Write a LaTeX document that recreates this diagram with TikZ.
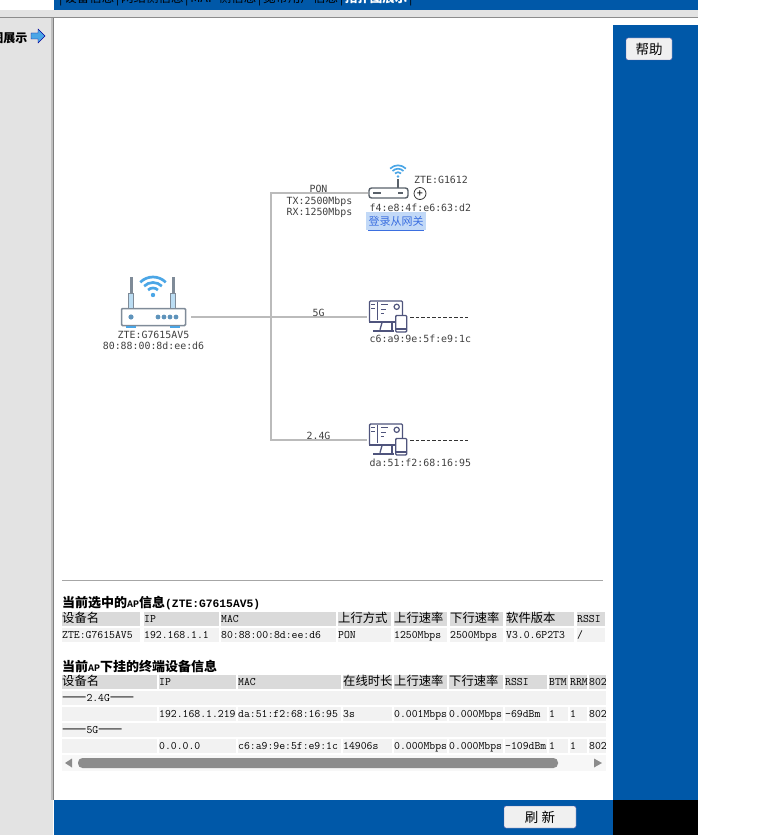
\documentclass[tikz,border=0pt]{standalone}
\usepackage{fontspec}
\usetikzlibrary{positioning,calc}
\newfontfamily\cjk{Noto Sans CJK SC}
\newfontfamily\dejamono{DejaVu Sans Mono}
\newfontfamily\slabmono{Liberation Mono}
\definecolor{page-blue}{HTML}{0058A8}
\definecolor{page-gray}{HTML}{E3E3E3}
\definecolor{head-gray}{HTML}{DADADA}
\definecolor{row-gray}{HTML}{F2F2F2}
\definecolor{wire-gray}{HTML}{BBBBBB}
\definecolor{icon-gray}{HTML}{7F8B98}
\definecolor{dot-blue}{HTML}{5E93BB}
\definecolor{wifi-blue}{HTML}{4BA6E6}
\definecolor{pale-blue}{HTML}{BBDDF3}
\definecolor{pc-slate}{HTML}{4F547C}
\definecolor{login-fill}{HTML}{C2D9F7}
\definecolor{login-text}{HTML}{3B6FE0}
\newcommand{\wifimark}[3]{% x, y of the dot, scale
  \fill[wifi-blue] (#1,#2) circle ({2.2*#3 pt});
  \draw[wifi-blue,line width=2.7*#3 pt] (#1,#2) ++(45:7*#3 pt) arc[start angle=45,end angle=135,radius=7*#3 pt];
  \draw[wifi-blue,line width=2.7*#3 pt] (#1,#2) ++(45:12.5*#3 pt) arc[start angle=45,end angle=135,radius=12.5*#3 pt];
  \draw[wifi-blue,line width=2.7*#3 pt] (#1,#2) ++(45:18*#3 pt) arc[start angle=45,end angle=135,radius=18*#3 pt];
}
\newcommand{\pcmark}[1]{% name of the screen node
  \draw[pc-slate,line width=1.3pt] ($(#1.south)+(-4,0)$) -- ($(#1.south)+(-6,7)$);
  \draw[pc-slate,line width=1.3pt] ($(#1.south)+(6,0)$) -- ($(#1.south)+(6,7)$);
  \draw[pc-slate,line width=1.8pt] ($(#1.south)+(-13,8.5)$) -- ($(#1.south)+(8,8.5)$);
  \draw[pc-slate,line width=2.4pt] ($(#1.south west)+(0,-1)$) -- ($(#1.south east)+(0,-1)$);
  \draw[pc-slate,line width=1pt] ($(#1.north west)+(9,2)$) -- ($(#1.south west)+(9,-3)$);
  \draw[pc-slate,line width=1.2pt] ($(#1.north west)+(2.5,4.5)$) -- +(4,0) ($(#1.north west)+(2.5,8.5)$) -- +(4,0);
  \draw[pc-slate,line width=1.3pt] ($(#1.north west)+(12,4.5)$) -- +(7,0) ($(#1.north west)+(12,9)$) -- +(5,0) ($(#1.north west)+(12,13)$) -- +(3,0);
  \draw[pc-slate,line width=1.2pt] ($(#1.north east)+(-6.5,6.5)$) circle (2.6pt);
  \node[fill=white,draw=pc-slate,line width=1.4pt,rounded corners=1pt,minimum width=11pt,minimum height=16.5pt,inner sep=0pt] (#1-phone) at ($(#1.south east)+(-2,1)$) {};
  \draw[pc-slate,line width=1.4pt] ($(#1-phone.south west)+(0,-3.5)$) -- ($(#1-phone.south east)+(0,-3.5)$);
}
\begin{document}
\begin{tikzpicture}[
  x = 1pt,
  y = -1pt,
  head-cell/.style={fill=head-gray,anchor=north west,inner xsep=0pt,inner ysep=.5pt,text height=10pt,text depth=3pt,font=\ttfamily\fontsize{11.4pt}{12pt}\selectfont,align=left},
  row-cell/.style={head-cell,fill=row-gray},
  zh/.style={font=\cjk\fontsize{12.3pt}{13pt}\selectfont},
  sheet-title/.style={anchor=west,inner sep=0pt,font=\slabmono\bfseries\fontsize{11.3pt}{13pt}\selectfont},
  net-label/.style={inner sep=0pt,font=\dejamono\fontsize{9.9pt}{11pt}\selectfont,text=black!75},
  net-wire/.style={draw=wire-gray,line width=1.2pt},
  page-button/.style={draw=gray!70!blue,fill=black!6,rounded corners=2pt,inner sep=0pt,font=\cjk\fontsize{13.5pt}{15pt}\selectfont},
  ]
  \useasboundingbox (0,0) rectangle (780,837);

  % page frame
  \fill[page-gray] (0,10) rectangle (698,18);
  \fill[page-gray] (0,10) rectangle (53,835);
  \fill[page-blue] (54,0) rectangle (698,10);
  \fill[page-blue] (613,25) rectangle (698,800);
  \fill[page-blue] (54,800) rectangle (613,835);
  \fill[black] (613,800) rectangle (698,835);
  \fill[black!45] (0,17) rectangle (698,18.5);
  \fill[black!25] (51,18) rectangle (52.5,800);
  \fill[black!50] (52.5,18) rectangle (54,800);

  % menu row, cut by the top edge
  \begin{scope}
    \clip (54,0) rectangle (698,6);
    \node[anchor=base west,inner sep=0pt,font=\cjk\fontsize{12.5pt}{13pt}\selectfont] (menu-row) at (59,2.5) {|\hspace{1.7pt}设备信息\hspace{1.7pt}|\hspace{1.7pt}网络侧信息\hspace{1.7pt}|\hspace{1.7pt}MAP 侧信息\hspace{1.7pt}|\hspace{1.7pt}宽带用户信息\hspace{1.7pt}|\hspace{1.7pt}\textcolor{white}{\bfseries 拓扑图展示}\hspace{1.7pt}|};
  \end{scope}

  % side menu entry
  \begin{scope}
    \clip (0,20) rectangle (53,50);
    \node[anchor=east,inner sep=0pt,font=\cjk\bfseries\fontsize{12pt}{13pt}\selectfont] (side-entry) at (27.5,38.5) {图展示};
  \end{scope}
  \fill[wifi-blue,draw=blue!60!black,line width=.4pt] (31,33) -- (38,33) -- (38,29) -- (45,36) -- (38,43) -- (38,39) -- (31,39) -- cycle;

  \node[page-button,minimum width=46pt,minimum height=22pt] (help-button) at (649,49) {帮助};
  \node[page-button,minimum width=72pt,minimum height=22pt] (refresh-button) at (540,817) {刷 新};

  % main router
  \node[draw=icon-gray,fill=white,line width=1.5pt,rounded corners=1pt,minimum width=64pt,minimum height=17pt,inner sep=0pt] (main-router) at (153.5,317) {};
  \fill[pale-blue,draw=icon-gray,line width=.6pt] (128.5,293) rectangle (133.5,308);
  \fill[pale-blue,draw=icon-gray,line width=.6pt] (170.5,293) rectangle (175.5,308);
  \fill[icon-gray] (129.5,277) rectangle (132.5,293);
  \fill[icon-gray] (171.5,277) rectangle (174.5,293);
  \fill[wifi-blue] (126,326) rectangle (136,328);
  \fill[wifi-blue] (170,326) rectangle (180,328);
  \fill[dot-blue] (131,317) circle (2.6pt);
  \fill[dot-blue] (158,317) circle (2.4pt);
  \fill[dot-blue] (164,317) circle (2.4pt);
  \fill[dot-blue] (170,317) circle (2.4pt);
  \fill[dot-blue] (176,317) circle (2.4pt);
  \wifimark{153}{295}{1}
  \node[net-label,below=4.5pt of main-router] (main-name) {ZTE:G7615AV5};
  \node[net-label,below=3pt of main-name] (main-mac) {80:88:00:8d:ee:d6};

  % gateway
  \node[draw=icon-gray!70!black,fill=white,line width=1.4pt,rounded corners=2.5pt,minimum width=39pt,minimum height=10pt,inner sep=0pt] (gateway) at (388.5,193) {};
  \draw[icon-gray!70!black,line width=1.2pt] (373,193) -- (381,193);
  \draw[icon-gray!70!black,line width=1.2pt] (398,193) -- (403,193);
  \draw[icon-gray!70!black,line width=1.4pt] (398,188) -- (398,179);
  \wifimark{398}{176.5}{.62}
  \node[draw=black!80,circle,line width=.8pt,minimum size=12pt,inner sep=0pt,font=\dejamono\fontsize{10pt}{10pt}\selectfont] (gateway-plus) at (420,193.5) {+};
  \node[net-label,anchor=west] (gateway-name) at (414,180) {ZTE:G1612};
  \node[net-label,anchor=west] (gateway-mac) at (369.5,207.5) {f4:e8:4f:e6:63:d2};
  \node[fill=login-fill,text=login-text,inner sep=0pt,minimum width=60pt,minimum height=18pt,font=\cjk\fontsize{11pt}{12pt}\selectfont] (gateway-login) at (396,221) {登录从网关};
  \draw[login-text,line width=1.2pt] (gateway-login.south west) ++(2,0) -- ([xshift=-2pt]gateway-login.south east);

  % clients
  \node[draw=pc-slate,line width=1.4pt,rounded corners=1pt,minimum width=33pt,minimum height=21pt,inner sep=0pt] (pc-5g) at (386,311.5) {};
  \pcmark{pc-5g}
  \node[net-label,anchor=west] (pc-5g-mac) at (369.5,338.5) {c6:a9:9e:5f:e9:1c};
  \node[draw=pc-slate,line width=1.4pt,rounded corners=1pt,minimum width=33pt,minimum height=21pt,inner sep=0pt] (pc-24g) at (386,434.5) {};
  \pcmark{pc-24g}
  \node[net-label,anchor=west] (pc-24g-mac) at (369.5,463) {da:51:f2:68:16:95};
  \coordinate (pc-5g-end) at (468,317);
  \coordinate (pc-24g-end) at (468,440);
  \draw[black!80,dash pattern=on 3.5pt off 2pt,line width=.8pt] (410,317) -- (pc-5g-end);
  \draw[black!80,dash pattern=on 3.5pt off 2pt,line width=.8pt] (410,440) -- (pc-24g-end);

  % links
  \coordinate (split-mid) at (271,317);
  \coordinate (pc-5g-in) at (367,317);
  \coordinate (pc-24g-in) at (367,440);
  \draw[net-wire] ([xshift=5pt]main-router.east) -- (pc-5g-in);
  \draw[net-wire] (gateway.west) -| (split-mid);
  \draw[net-wire] (split-mid) |- (pc-24g-in);
  \node[net-label] (pon-label) at (318.5,189) {PON};
  \node[net-label] (tx-label) at (319.5,202) {TX:2500Mbps};
  \node[net-label] (rx-label) at (319.5,213) {RX:1250Mbps};
  \node[net-label] (label-5g) at (318.5,313) {5G};
  \node[net-label] (label-24g) at (318.5,436) {2.4G};

  % selected AP
  \fill[black!35] (62,580) rectangle (603,581);
  \node[sheet-title] (ap-title) at (62,603) {{\cjk\fontsize{13pt}{13pt}\selectfont 当前选中的}{\fontsize{10pt}{13pt}\selectfont AP}{\cjk\fontsize{13pt}{13pt}\selectfont 信息}(ZTE:G7615AV5)};
  \node[head-cell,zh,text width=78pt] (ap-h-name) at (62,612) {设备名};
  \node[head-cell,text width=75pt] (ap-h-ip) at (144,612) {IP};
  \node[head-cell,text width=115pt] (ap-h-mac) at (221,612) {MAC};
  \node[head-cell,zh,text width=53pt] (ap-h-up) at (338,612) {上行方式};
  \node[head-cell,zh,text width=53pt] (ap-h-rate) at (394,612) {上行速率};
  \node[head-cell,zh,text width=53pt] (ap-h-down) at (450,612) {下行速率};
  \node[head-cell,zh,text width=68pt] (ap-h-soft) at (506,612) {软件版本};
  \node[head-cell,text width=28pt] (ap-h-rssi) at (577,612) {RSSI};
  \node[row-cell,text width=78pt] (ap-name) at (62,628) {ZTE:G7615AV5};
  \node[row-cell,text width=75pt] (ap-ip) at (144,628) {192.168.1.1};
  \node[row-cell,text width=115pt] (ap-mac) at (221,628) {80:88:00:8d:ee:d6};
  \node[row-cell,text width=53pt] (ap-up) at (338,628) {PON};
  \node[row-cell,text width=53pt] (ap-rate) at (394,628) {1250Mbps};
  \node[row-cell,text width=53pt] (ap-down) at (450,628) {2500Mbps};
  \node[row-cell,text width=68pt] (ap-soft) at (506,628) {V3.0.6P2T3};
  \node[row-cell,text width=28pt] (ap-rssi) at (577,628) {/};

  % attached terminals
  \node[sheet-title] (sta-title) at (62,666) {{\cjk\fontsize{13pt}{13pt}\selectfont 当前}{\fontsize{10pt}{13pt}\selectfont AP}{\cjk\fontsize{13pt}{13pt}\selectfont 下挂的终端设备信息}};
  \node[head-cell,zh,text width=95pt] (sta-h-name) at (62,675) {设备名};
  \node[head-cell,text width=77pt] (sta-h-ip) at (159,675) {IP};
  \node[head-cell,text width=103pt] (sta-h-mac) at (238,675) {MAC};
  \node[head-cell,zh,text width=49pt] (sta-h-time) at (343,675) {在线时长};
  \node[head-cell,zh,text width=53pt] (sta-h-rate) at (394,675) {上行速率};
  \node[head-cell,zh,text width=54pt] (sta-h-down) at (449,675) {下行速率};
  \node[head-cell,text width=42pt] (sta-h-rssi) at (505,675) {RSSI};
  \node[head-cell,text width=19pt] (sta-h-btm) at (549,675) {BTM};
  \node[head-cell,text width=17pt] (sta-h-rrm) at (570,675) {RRM};
  \node[head-cell,text width=17pt] (sta-h-cut) at (589,675) {802};
  \node[row-cell,zh,text width=544pt] (band-24g) at (62,691) {{\fontsize{14.5pt}{14pt}\selectfont ——}{\ttfamily\fontsize{11.4pt}{12pt}\selectfont 2.4G}{\fontsize{14.5pt}{14pt}\selectfont ——}};
  \node[row-cell,text width=95pt] (sta1-name) at (62,707) {};
  \node[row-cell,text width=77pt] (sta1-ip) at (159,707) {192.168.1.219};
  \node[row-cell,text width=103pt] (sta1-mac) at (238,707) {da:51:f2:68:16:95};
  \node[row-cell,text width=49pt] (sta1-time) at (343,707) {3s};
  \node[row-cell,text width=53pt] (sta1-rate) at (394,707) {0.001Mbps};
  \node[row-cell,text width=54pt] (sta1-down) at (449,707) {0.000Mbps};
  \node[row-cell,text width=42pt] (sta1-rssi) at (505,707) {-69dBm};
  \node[row-cell,text width=19pt] (sta1-btm) at (549,707) {1};
  \node[row-cell,text width=17pt] (sta1-rrm) at (570,707) {1};
  \node[row-cell,text width=17pt] (sta1-cut) at (589,707) {802};
  \node[row-cell,zh,text width=544pt] (band-5g) at (62,723) {{\fontsize{14.5pt}{14pt}\selectfont ——}{\ttfamily\fontsize{11.4pt}{12pt}\selectfont 5G}{\fontsize{14.5pt}{14pt}\selectfont ——}};
  \node[row-cell,text width=95pt] (sta2-name) at (62,739) {};
  \node[row-cell,text width=77pt] (sta2-ip) at (159,739) {0.0.0.0};
  \node[row-cell,text width=103pt] (sta2-mac) at (238,739) {c6:a9:9e:5f:e9:1c};
  \node[row-cell,text width=49pt] (sta2-time) at (343,739) {14906s};
  \node[row-cell,text width=53pt] (sta2-rate) at (394,739) {0.000Mbps};
  \node[row-cell,text width=54pt] (sta2-down) at (449,739) {0.000Mbps};
  \node[row-cell,text width=42pt] (sta2-rssi) at (505,739) {-109dBm};
  \node[row-cell,text width=19pt] (sta2-btm) at (549,739) {1};
  \node[row-cell,text width=17pt] (sta2-rrm) at (570,739) {1};
  \node[row-cell,text width=17pt] (sta2-cut) at (589,739) {802};

  % scrollbar
  \fill[black!3] (62,755) rectangle (606,771);
  \fill[black!45,rounded corners=4.5pt] (78,758) rectangle (558,768);
  \fill[black!45] (72,758.5) -- (72,767.5) -- (65,763) -- cycle;
  \fill[black!45] (594,758.5) -- (594,767.5) -- (602,763) -- cycle;
\end{tikzpicture}
\end{document}
